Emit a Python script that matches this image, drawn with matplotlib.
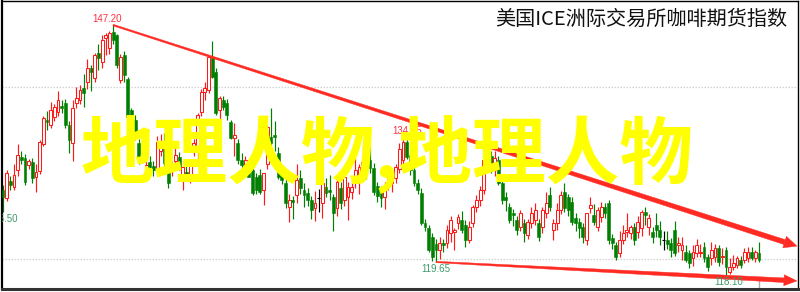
import matplotlib
matplotlib.use("Agg")
import matplotlib.pyplot as plt
from matplotlib.patches import Rectangle, Polygon
from matplotlib.transforms import offset_copy, IdentityTransform
import numpy as np

# Daily OHLC of the ICE coffee futures index
opens = [
    128.0, 127.1, 129.1, 128.4, 130.3, 131.9, 131.8, 130.9, 131.3, 129.5,
    130.2, 133.4, 136.2, 135.6, 136.5, 137.1, 137.8, 138.1, 135.6, 133.5,
    138.1, 138.5, 139.9, 140.6, 142.2, 141.0, 144.0, 142.9, 145.7, 144.5,
    146.4, 146.0, 140.8, 143.7, 140.9, 137.3, 136.2, 133.5, 132.1, 130.4,
    131.3, 130.8, 130.3, 132.6, 133.7, 131.2, 130.3, 131.4, 131.9, 129.5,
    130.1, 129.5, 132.7, 132.7, 137.1, 139.4, 139.7, 143.4, 141.8, 137.3,
    138.5, 138.1, 135.9, 134.1, 133.5, 131.5, 130.4, 131.2, 130.3, 129.5,
    129.8, 128.0, 131.0, 134.2, 134.4, 132.3, 130.0, 128.8, 126.0, 126.9,
    127.4, 129.4, 128.0, 127.7, 126.9, 125.9, 127.1, 126.5, 128.4, 128.0,
    127.2, 125.9, 128.3, 126.9, 127.2, 127.8, 128.8, 129.2, 130.9, 130.9,
    131.5, 130.6, 128.5, 127.8, 127.2, 128.6, 128.8, 129.4, 130.5, 131.5,
    133.6, 132.1, 130.3, 128.8, 127.7, 124.2, 123.6, 122.6, 121.8, 121.0,
    121.9, 121.9, 123.0, 123.1, 124.2, 124.5, 124.0, 122.2, 124.2, 126.0,
    126.9, 128.0, 130.9, 132.0, 130.4, 131.5, 128.8, 127.2, 126.0, 125.3,
    124.5, 123.7, 124.2, 122.8, 124.2, 124.5, 124.2, 123.7, 125.3, 127.4,
    123.4, 124.2, 125.7, 127.8, 127.2, 126.6, 124.8, 124.3, 123.7, 122.2,
    125.9, 125.1, 123.7, 124.9, 126.0, 126.5, 122.4, 121.6, 120.7, 122.2,
    123.1, 123.0, 123.7, 123.1, 123.6, 125.5, 123.7, 123.1, 124.0, 123.4,
    122.2, 122.2, 121.9, 123.4, 121.6, 121.0, 120.8, 120.7, 120.1, 120.7,
    120.7, 121.4, 120.2, 120.1, 120.2, 121.3, 120.2, 121.0, 118.5, 119.1,
    119.3, 119.9, 119.9, 120.1, 120.8, 120.1, 120.7,
]
highs = [
    128.6, 130.3, 129.6, 131.0, 133.4, 132.5, 132.2, 131.6, 131.8, 131.0,
    133.8, 136.6, 137.2, 138.3, 138.0, 139.5, 138.5, 138.6, 136.0, 138.5,
    140.0, 140.2, 141.5, 143.2, 142.6, 144.0, 145.0, 146.0, 146.3, 146.5,
    147.2, 146.2, 143.8, 144.2, 141.2, 137.6, 136.8, 134.0, 133.0, 131.5,
    132.0, 131.4, 134.3, 134.5, 134.6, 131.8, 131.4, 132.9, 132.4, 131.4,
    130.8, 131.5, 133.9, 137.0, 139.8, 140.6, 143.6, 145.3, 142.2, 139.0,
    139.0, 138.6, 136.2, 135.8, 134.0, 132.3, 132.0, 131.6, 130.8, 130.0,
    130.5, 130.0, 135.6, 137.5, 136.0, 133.0, 130.5, 129.4, 127.5, 127.3,
    131.0, 130.3, 128.8, 128.3, 127.3, 127.9, 128.1, 130.0, 129.4, 129.8,
    127.6, 129.5, 128.9, 129.9, 129.0, 129.2, 131.8, 131.0, 133.2, 132.8,
    133.0, 131.2, 129.0, 128.5, 129.0, 130.1, 130.3, 131.1, 133.5, 133.9,
    134.15, 132.6, 130.8, 129.3, 128.2, 124.6, 124.0, 123.0, 122.3, 122.6,
    122.3, 123.9, 125.0, 123.6, 125.2, 125.6, 124.5, 124.4, 126.3, 127.4,
    128.5, 131.8, 132.5, 132.6, 132.5, 132.0, 129.2, 127.8, 126.5, 125.8,
    125.0, 125.7, 124.6, 124.6, 126.0, 126.5, 124.6, 126.0, 127.8, 128.4,
    124.6, 126.5, 127.9, 128.8, 127.6, 127.2, 125.4, 124.8, 124.2, 125.4,
    127.2, 126.4, 126.1, 126.6, 126.5, 126.9, 122.9, 122.0, 123.3, 124.0,
    125.4, 124.0, 124.2, 125.0, 125.7, 126.0, 125.2, 123.7, 125.3, 124.4,
    123.3, 123.2, 122.4, 124.4, 122.5, 122.6, 121.6, 121.0, 121.6, 122.3,
    121.7, 122.0, 120.6, 122.0, 121.8, 121.6, 121.3, 121.4, 120.1, 120.5,
    120.3, 120.3, 121.3, 121.4, 121.4, 121.0, 122.0,
]
lows = [
    125.5, 126.8, 128.0, 128.0, 129.7, 131.0, 128.6, 130.5, 128.8, 127.8,
    129.9, 133.1, 135.0, 135.2, 136.0, 136.6, 137.0, 135.2, 132.3, 131.4,
    137.5, 138.0, 137.7, 139.8, 139.5, 140.6, 142.0, 142.2, 143.7, 143.8,
    145.0, 142.2, 140.5, 140.6, 136.0, 134.0, 133.8, 131.0, 131.2, 129.8,
    130.5, 129.6, 129.9, 132.0, 130.6, 128.2, 129.6, 130.7, 130.4, 128.0,
    129.4, 128.8, 132.0, 131.5, 136.6, 138.5, 139.3, 141.0, 136.8, 134.6,
    137.3, 136.2, 133.9, 132.0, 131.1, 130.5, 129.8, 129.5, 127.4, 127.6,
    127.5, 126.3, 130.5, 133.2, 132.5, 129.3, 128.7, 125.9, 124.3, 124.6,
    126.5, 127.6, 126.0, 126.2, 124.7, 124.4, 125.5, 124.8, 127.2, 126.9,
    123.3, 125.0, 125.8, 126.2, 124.5, 127.0, 128.2, 127.6, 130.4, 129.3,
    130.0, 127.4, 126.6, 126.0, 125.8, 128.0, 127.8, 128.8, 130.0, 131.0,
    131.6, 129.8, 128.5, 127.5, 124.0, 123.2, 120.8, 119.8, 119.65, 120.0,
    120.8, 121.3, 122.0, 121.0, 123.5, 123.0, 121.4, 121.9, 123.7, 125.5,
    126.2, 127.5, 130.4, 130.0, 129.7, 128.6, 126.4, 125.6, 124.2, 123.8,
    122.8, 123.2, 122.0, 122.3, 123.6, 124.0, 122.1, 123.0, 124.8, 125.6,
    122.2, 123.4, 125.2, 125.5, 125.0, 123.9, 123.3, 122.4, 121.9, 121.6,
    125.4, 123.9, 123.2, 124.3, 124.8, 121.8, 121.2, 119.9, 120.2, 121.7,
    122.6, 122.3, 121.6, 122.4, 122.7, 124.0, 122.8, 121.9, 122.5, 121.6,
    121.0, 121.2, 120.2, 120.3, 120.8, 119.9, 119.6, 118.9, 119.2, 120.2,
    120.2, 119.6, 118.6, 119.3, 119.6, 119.2, 119.4, 118.1, 118.2, 118.7,
    118.9, 119.0, 119.5, 119.7, 119.9, 119.6, 119.6,
]
closes = [
    127.2, 130.0, 128.6, 129.8, 132.1, 131.5, 129.0, 131.4, 129.4, 130.1,
    133.6, 136.4, 135.9, 137.3, 137.7, 138.5, 137.6, 135.6, 133.8, 137.6,
    138.7, 139.7, 139.3, 142.2, 141.7, 143.7, 143.4, 145.5, 146.0, 146.3,
    145.5, 142.6, 143.5, 141.4, 136.5, 135.6, 134.2, 131.5, 131.7, 130.9,
    130.7, 130.3, 133.6, 133.6, 131.2, 128.8, 130.9, 132.1, 130.7, 130.7,
    129.8, 131.2, 133.5, 136.7, 139.4, 139.9, 143.5, 141.2, 137.0, 138.7,
    137.7, 136.7, 134.1, 134.4, 131.5, 130.9, 131.5, 129.5, 127.7, 128.0,
    127.8, 130.0, 135.3, 133.5, 134.2, 129.5, 129.2, 126.5, 126.9, 126.6,
    129.2, 128.3, 127.4, 126.9, 125.7, 126.5, 127.1, 128.8, 127.7, 127.8,
    125.3, 129.0, 126.5, 129.5, 128.4, 128.4, 130.4, 130.7, 131.3, 130.6,
    130.6, 127.8, 127.3, 127.1, 128.3, 129.4, 129.2, 130.7, 132.8, 133.6,
    131.9, 130.3, 128.8, 128.0, 124.2, 123.7, 121.0, 120.2, 121.0, 121.9,
    121.6, 123.4, 124.5, 123.4, 124.9, 123.4, 122.2, 123.7, 126.0, 126.9,
    128.0, 131.5, 132.0, 130.4, 131.7, 128.8, 126.9, 126.9, 124.5, 125.1,
    123.4, 125.3, 123.0, 124.3, 125.3, 125.7, 122.6, 125.7, 126.5, 126.0,
    124.2, 125.7, 127.4, 125.9, 125.7, 124.3, 124.2, 123.6, 122.6, 125.3,
    126.3, 124.3, 125.7, 126.0, 125.3, 122.2, 121.9, 120.2, 122.2, 123.0,
    123.4, 123.7, 122.2, 124.3, 125.5, 125.1, 124.8, 122.6, 123.4, 122.6,
    122.2, 121.8, 121.0, 120.7, 121.9, 121.6, 119.9, 119.5, 120.8, 121.6,
    120.8, 120.1, 119.1, 121.0, 121.3, 119.7, 120.4, 119.1, 119.1, 119.5,
    120.1, 119.3, 120.8, 120.8, 120.1, 120.8, 119.9,
]

title_text = "美国ICE洲际交易所咖啡期货指数"
watermark_text = "地理人物,地理人物"
grid_levels = [120, 140]
upper_trend_end = 121.5   # projected value of the falling resistance line
lower_trend_end = 117.45  # projected value of the falling support line

UP = "#ff1a1a"
DOWN = "#007f00"
FLAT = "#000000"
TREND = "#ff2a22"
LABEL_UP = "#ff3040"
LABEL_DOWN = "#3f9a6a"

W, H = 800, 292
fig = plt.figure(figsize=(W / 100, H / 100), dpi=100)
ax = fig.add_axes([2 / W, 3 / H, 796 / W, 288 / H])

n = len(closes)
pitch = 756 / (n - 1)           # pixels between candles
ax.set_xlim(-1 / pitch, 795 / pitch)
ax.set_ylim(116.51, 150.0)

# grid and frame
ax.set_xticks([])
ax.set_yticks(grid_levels)
ax.tick_params(left=False, labelleft=False)
ax.set_axisbelow(True)
ax.grid(axis="y", color="#d2d2d2", linestyle=(0, (1.2, 1.2)), linewidth=0.9)
for side, lw, col in [("left", 1.6, "#000000"), ("top", 1.0, "#000000"),
                      ("right", 1.0, "#000000"), ("bottom", 2.2, "#333333")]:
    ax.spines[side].set_linewidth(lw)
    ax.spines[side].set_color(col)

# candles
bw = 0.78
for i, (o, h, l, c) in enumerate(zip(opens, highs, lows, closes)):
    if c > o:
        col = UP
    elif c < o:
        col = DOWN
    else:
        col = FLAT
    ax.vlines(i, l, h, color=col, linewidth=0.85, zorder=2)
    if c > o:
        ax.add_patch(Rectangle((i - bw / 2, o), bw, c - o, facecolor="white",
                               edgecolor=col, linewidth=0.75, zorder=3))
    elif c < o:
        ax.add_patch(Rectangle((i - bw / 2, c), bw, o - c, facecolor=col,
                               edgecolor=col, linewidth=0.4, zorder=3))
    else:
        ax.hlines(o, i - bw / 2, i + bw / 2, color=col, linewidth=0.8, zorder=3)

highs_a = np.array(highs)
lows_a = np.array(lows)
i_top = int(np.argmax(highs_a))
i_mid_top = 80 + int(np.argmax(highs_a[80:130]))
i_bottom1 = 90 + int(np.argmin(lows_a[90:150]))
i_bottom2 = int(np.argmin(lows_a))
i_first = 0


def price_label(i, value, above, color, dx=0):
    dy = 1 if above else -2
    tr = offset_copy(ax.transData, fig=fig, x=dx, y=dy, units="dots")
    ax.text(i, value, f"{value:.2f}", transform=tr, ha="center",
            va="bottom" if above else "top", fontsize=7, color=color,
            family="Liberation Sans", clip_on=True, zorder=6)


price_label(i_top, highs[i_top], True, LABEL_UP, dx=-6)
price_label(i_mid_top, highs[i_mid_top], True, LABEL_UP)
price_label(i_bottom1, lows[i_bottom1], False, LABEL_DOWN)
price_label(i_bottom2, lows[i_bottom2], False, LABEL_DOWN, dx=3)
price_label(i_first, lows[i_first], False, LABEL_DOWN)

# small marker under the latest candle
ax.vlines(n - 1, 116.51, 117.6, color="#aaaaaa", linewidth=1.0, zorder=1)


def tapered_arrow(p0, p1, w0, w1, head_len, head_w):
    a = ax.transData.transform(p0)
    b = ax.transData.transform(p1)
    d = (b - a) / np.hypot(*(b - a))
    nv = np.array([-d[1], d[0]])
    base = b - d * head_len
    body = [a + nv * w0 / 2, base + nv * w1 / 2, base - nv * w1 / 2, a - nv * w0 / 2]
    head = [base + nv * head_w / 2, b, base - nv * head_w / 2]
    for pts in (body, head):
        ax.add_patch(Polygon(pts, closed=True, facecolor=TREND, edgecolor=TREND,
                             linewidth=0.3, transform=IdentityTransform(), zorder=5))


x_end = 794 / pitch
tapered_arrow((i_top, highs[i_top]), (x_end, upper_trend_end), 1.6, 5.0, 13, 12)
tapered_arrow((i_bottom1, lows[i_bottom1]), (x_end, lower_trend_end), 1.4, 4.6, 13, 11)

# title
ax.text(0.986, 0.935, title_text, transform=ax.transAxes, ha="right", va="center",
        fontsize=14.5, color="#111111", family=["Noto Sans CJK SC", "DejaVu Sans"], zorder=7)

# overlay caption
fig.text(387 / W, 1 - 155 / H, watermark_text, ha="center", va="center",
         fontsize=53, fontweight="bold", color="#ffff00",
         family=["Noto Sans CJK SC", "DejaVu Sans"], zorder=10)

fig.savefig("out.png", dpi=100)
